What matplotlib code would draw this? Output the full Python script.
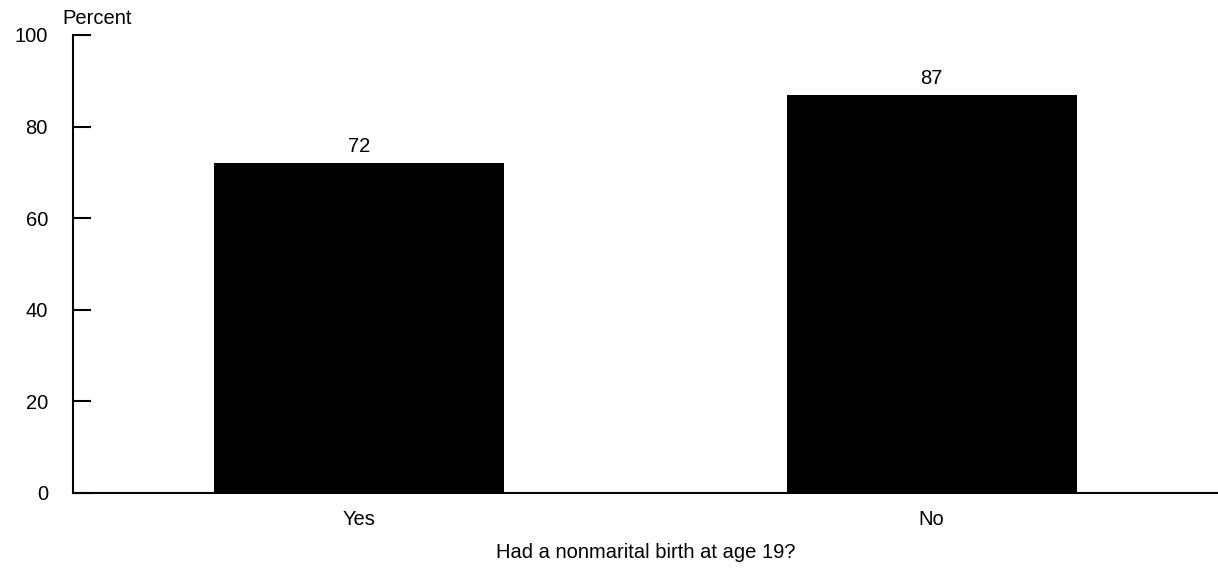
import matplotlib
matplotlib.use("Agg")
import matplotlib.pyplot as plt

categories = ["Yes", "No"]
values = [72, 87]
yticks = [0, 20, 40, 60, 80, 100]
xlabel = "Had a nonmarital birth at age 19?"
ylabel = "Percent"

plt.rcParams['font.family'] = ['Liberation Sans', 'DejaVu Sans']
FS = 14.5

fig = plt.figure(figsize=(12.18, 5.71), dpi=100)
ax = fig.add_axes([73/1218, 1 - 493/571, 1 - 73/1218, (493 - 35)/571])
x = list(range(len(categories)))
bars = ax.bar(x, values, width=0.506, color='black')
for xi, v in zip(x, values):
    ax.annotate(f"{v}", (xi, v), xytext=(0, 5), textcoords='offset points',
                ha='center', va='bottom', fontsize=FS)
ax.set_xlim(-0.5, 1.5)
ax.set_ylim(0, 100)
ax.set_yticks(yticks)
ax.set_yticklabels([str(t) for t in yticks], fontsize=FS)
ax.set_xticks(x)
ax.set_xticklabels(categories, fontsize=FS)
ax.tick_params(axis='y', direction='in', length=13, width=1.5, pad=18)
ax.tick_params(axis='x', length=0, pad=12)
for s in ['top', 'right']:
    ax.spines[s].set_visible(False)
ax.spines['left'].set_linewidth(1.5)
ax.spines['bottom'].set_linewidth(1.5)
ax.set_xlabel(xlabel, fontsize=FS, labelpad=10)
fig.text(62/1218, 1 - 18/571, ylabel, fontsize=FS, ha='left', va='center')
fig.savefig("out.png", dpi=100)
